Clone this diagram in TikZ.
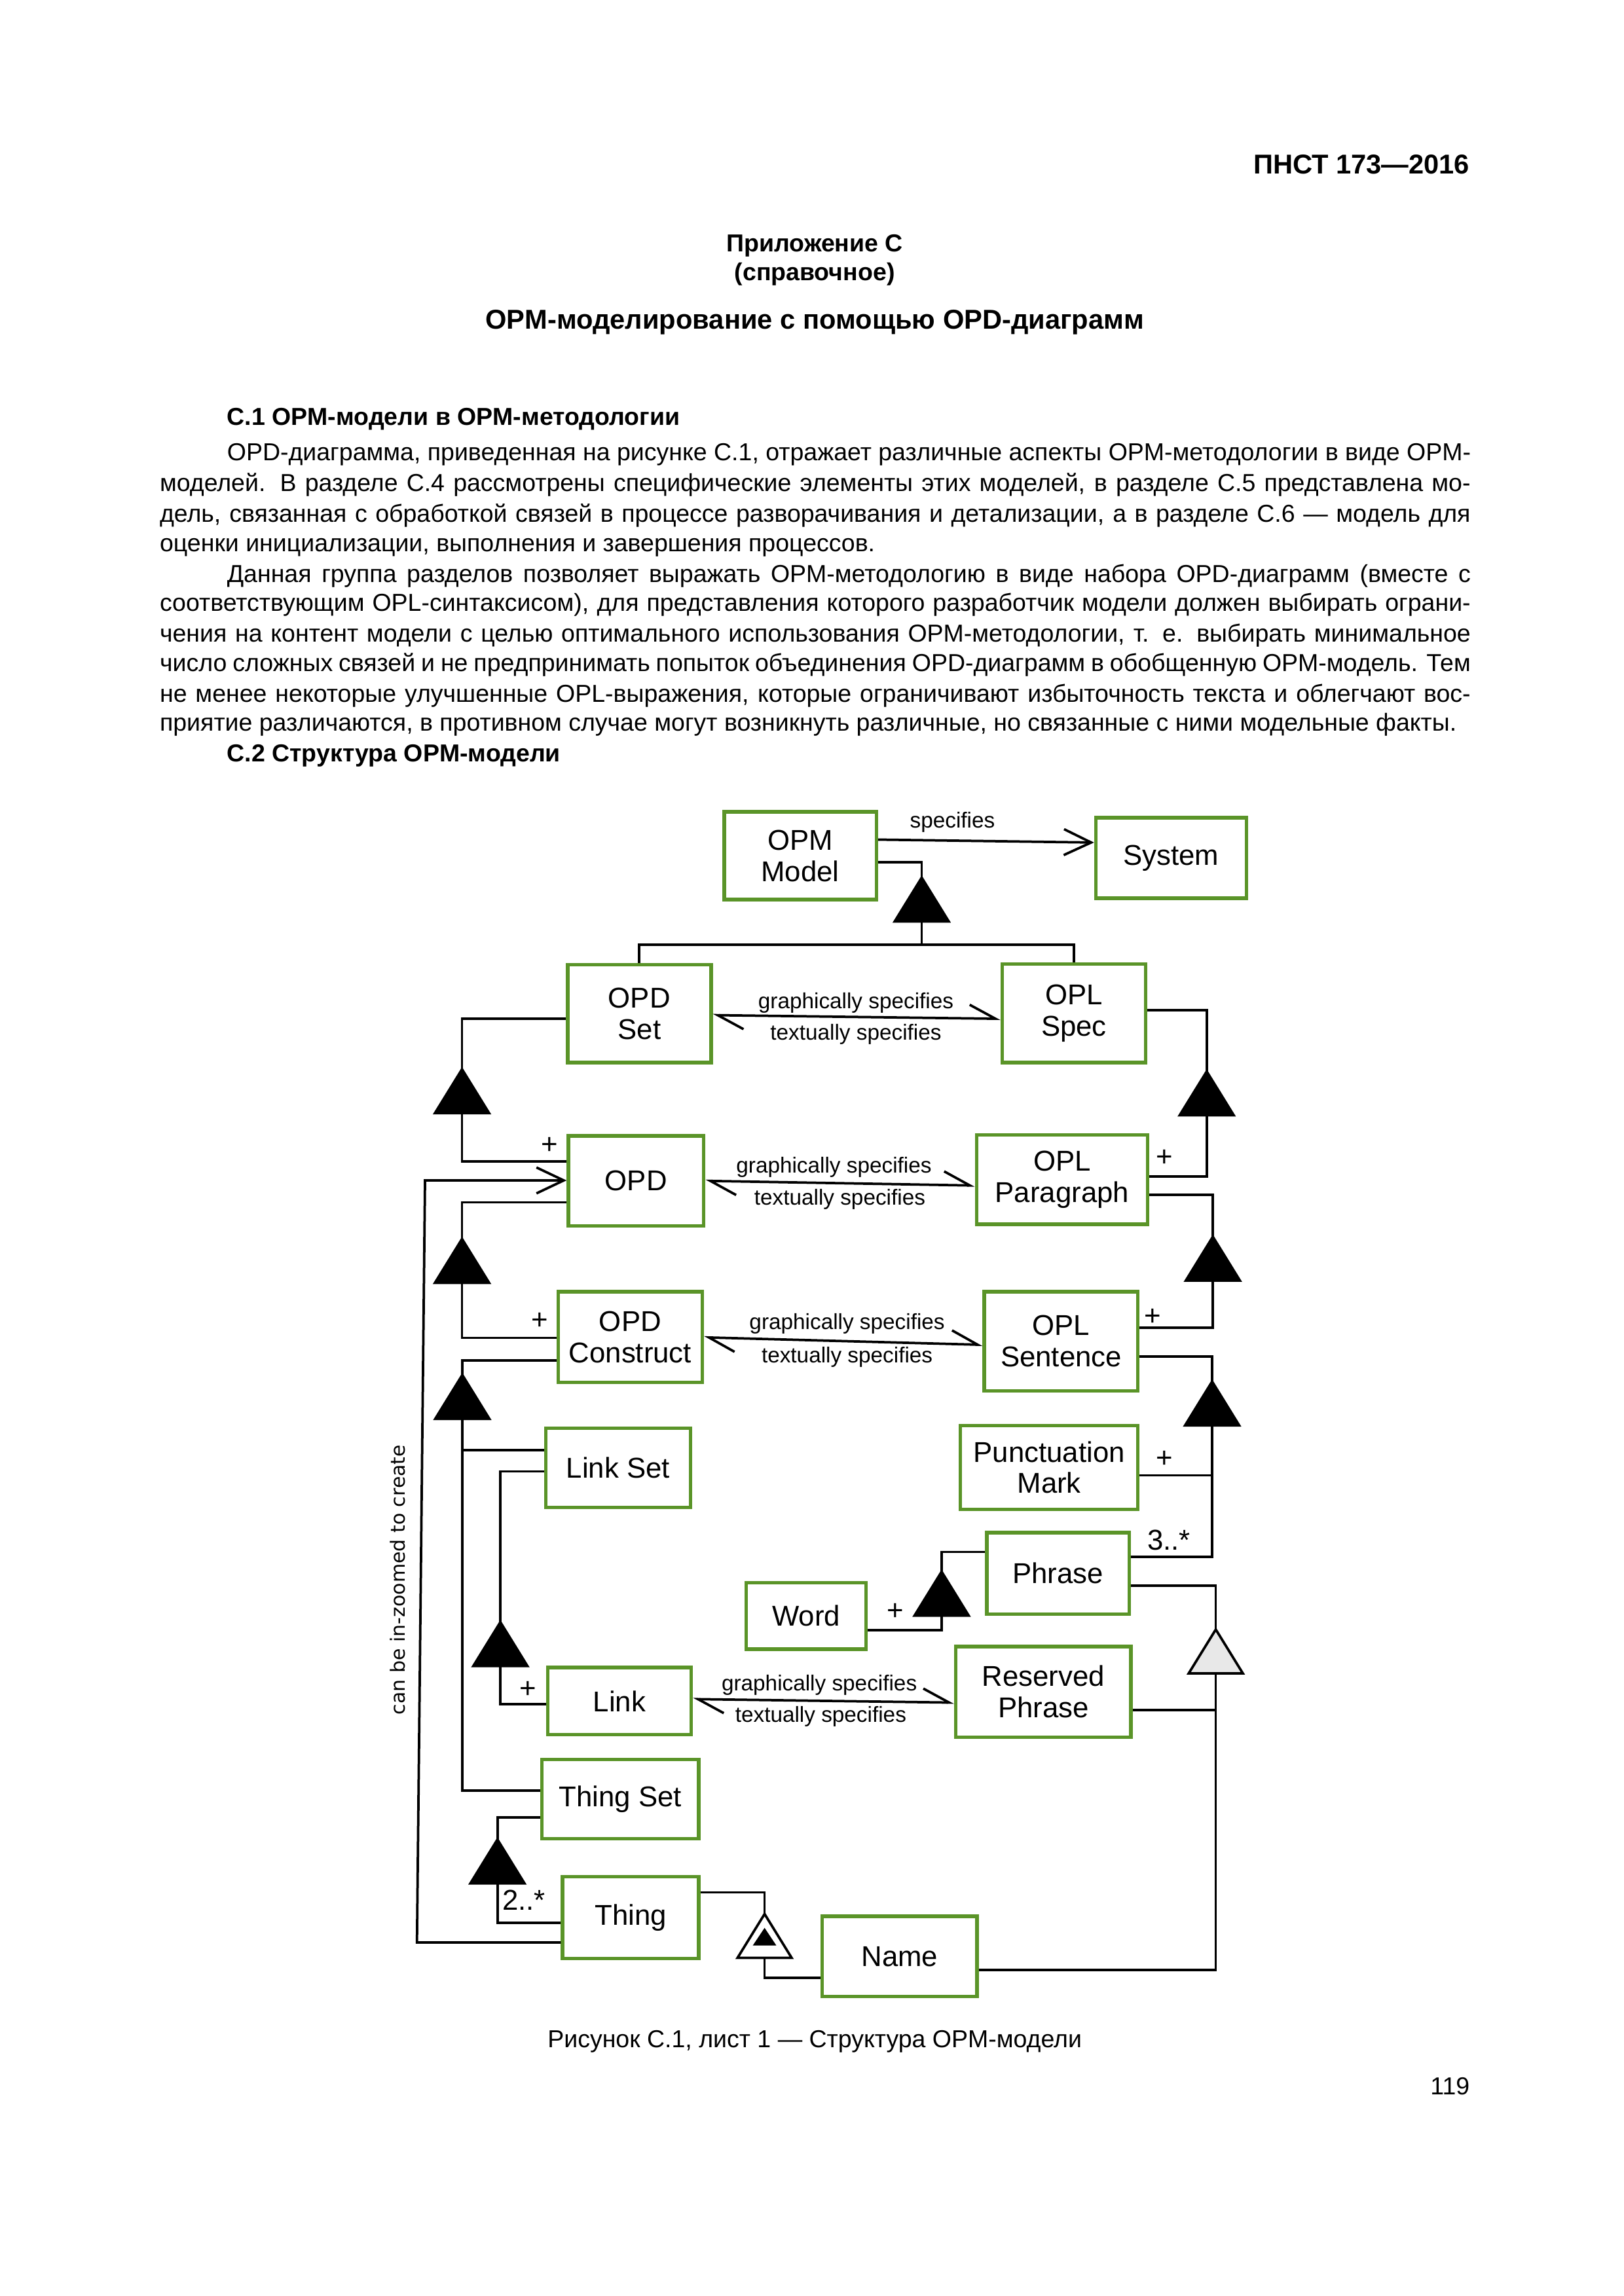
\documentclass[tikz,border=0pt]{standalone}
\usepackage{fontspec}
\setmainfont{Liberation Sans}
\newfontfamily\vfont{DejaVu Sans}
\usetikzlibrary{arrows.meta}
\definecolor{boxgreen}{RGB}{90,148,40}
\definecolor{trigrey}{RGB}{232,232,232}
\newcommand\obx[6]{\node[obox, minimum width={(#4-#2)*0.5363pt}, minimum height={(#5-#3)*0.5363pt}] (#1) at ({(#2+#4)/2},{(#3+#5)/2}) {#6};}
\newcommand\tri[4]{\coordinate (#1a) at (#2,#3); \coordinate (#1b) at (#2,#3+30);
  \draw[#4] (#1a) -- ++(18.5,30) -- ++(-37,0) -- cycle;}
\newcommand\jl[2]{\makebox[#1][s]{#2}}
\begin{document}
\begin{tikzpicture}[x=0.5363pt,y=-0.5363pt,
  obox/.style={draw=boxgreen, line width=1.3pt, fill=white, align=center, font=\fontsize{10.5}{11.5}\selectfont, inner sep=0pt},
  conn/.style={line width=0.9pt, line join=miter},
  lbl/.style={font=\fontsize{8}{9}\selectfont, inner sep=0pt},
  mult/.style={font=\fontsize{10.5}{11}\selectfont, inner sep=0pt},
  tagged/.style={conn, {Straight Barb[harpoon,length=9.5pt,width=10pt]}-{Straight Barb[harpoon,length=9.5pt,width=10pt]}},
  openarrow/.style={conn, -{Straight Barb[length=10pt,width=9.5pt]}},
  agg/.style={line width=0.9pt, fill=black},
  body/.style={anchor=west, inner sep=0pt, text height=6.8pt, text depth=2.2pt, font=\fontsize{9}{11}\selectfont},
  bodyb/.style={body, font=\bfseries\fontsize{9}{11}\selectfont},
]
\useasboundingbox[fill=white] (0,0) rectangle (1110,1569.7);

% ---------- page text ----------
\begin{scope}[yshift=-1.4pt, xshift=1pt]
\node[bodyb, anchor=east, font=\bfseries\fontsize{10}{12}\selectfont] (hdr) at (1003,112) {ПНСТ 173—2016};
\node[bodyb, anchor=center] (app) at (555,165) {Приложение С};
\node[bodyb, anchor=center] (spr) at (555,185) {(справочное)};
\node[bodyb, anchor=center, font=\bfseries\fontsize{10}{12}\selectfont] (ttl) at (555,218) {OPM-моделирование с помощью OPD-диаграмм};
\node[bodyb] (s1) at (153,284) {С.1 OPM-модели в OPM-методологии};
\node[body] (l1) at (153,308) {\jl{455.9pt}{OPD-диаграмма, приведенная на рисунке С.1, отражает различные аспекты OPM-методологии в виде OPM-}};
\node[body] (l2) at (107,329) {\jl{480.5pt}{моделей. В разделе С.4 рассмотрены специфические элементы этих моделей, в разделе С.5 представлена мо-}};
\node[body] (l3) at (107,350) {\jl{480.5pt}{дель, связанная с обработкой связей в процессе разворачивания и детализации, а в разделе С.6 — модель для}};
\node[body] (l4) at (107,370) {оценки инициализации, выполнения и завершения процессов.};
\node[body] (l5) at (153,391) {\jl{455.9pt}{Данная группа разделов позволяет выражать OPM-методологию в виде набора OPD-диаграмм (вместе с}};
\node[body] (l6) at (107,411) {\jl{480.5pt}{соответствующим OPL-синтаксисом), для представления которого разработчик модели должен выбирать ограни-}};
\node[body] (l7) at (107,432) {\jl{480.5pt}{чения на контент модели с целью оптимального использования OPM-методологии, т. е. выбирать минимальное}};
\node[body] (l8) at (107,452) {\jl{480.5pt}{число сложных связей и не предпринимать попыток объединения OPD-диаграмм в обобщенную OPM-модель. Тем}};
\node[body] (l9) at (107,473) {\jl{480.5pt}{не менее некоторые улучшенные OPL-выражения, которые ограничивают избыточность текста и облегчают вос-}};
\node[body] (l10) at (107,493) {приятие различаются, в противном случае могут возникнуть различные, но связанные с ними модельные факты.};
\node[bodyb] (s2) at (153,514) {С.2 Структура OPM-модели};
\node[body, anchor=center] (cap) at (555,1393) {Рисунок С.1, лист 1 — Структура OPM-модели};
\node[body, anchor=east] (pg) at (1003,1425) {119};
\end{scope}

% ---------- boxes ----------
\obx{OPMModel}{495}{555}{599}{615}{OPM\\Model}
\obx{System}{749}{559}{852}{614}{System}
\obx{OPDSet}{388}{659.5}{486}{726.5}{OPD\\Set}
\obx{OPLSpec}{685}{659}{783}{726.5}{OPL\\Spec}
\obx{OPD}{388.5}{776.5}{481}{838}{OPD}
\obx{OPLPar}{667.5}{776}{784.4}{837}{OPL\\Paragraph}
\obx{OPDCon}{381.5}{883}{480}{945}{OPD\\Construct}
\obx{OPLSen}{672.8}{883}{777.8}{951}{OPL\\Sentence}
\obx{LinkSet}{373}{976.5}{472}{1030.5}{Link Set}
\obx{PunctMark}{656.5}{974.6}{777.8}{1031.8}{Punctuation\\Mark}
\obx{Phrase}{674.6}{1047.8}{771.8}{1103.4}{Phrase}
\obx{Word}{510}{1082}{592}{1127.5}{Word}
\obx{ResPhrase}{653.3}{1125.6}{773}{1187.6}{Reserved\\Phrase}
\obx{Link}{374.4}{1140}{472.5}{1186}{Link}
\obx{ThingSet}{370.4}{1203}{477.6}{1257}{Thing Set}
\obx{Thing}{384.5}{1283}{477.6}{1339}{Thing}
\obx{Name}{562}{1310}{667.8}{1365}{Name}

% ---------- connectors ----------
\draw[openarrow] (OPMModel.east |- 0,574) -- (System.west |- 0,576);
\node[lbl] (lspec) at (651,562) {specifies};

\tri{t0}{630}{600}{agg}
\draw[conn] (OPMModel.east |- 0,589.5) -| (t0a);
\coordinate (j0) at (630,646);
\draw[conn] (t0b) -- (j0);
\draw[conn] (OPDSet.north) |- (j0) -| (OPLSpec.north);

\draw[tagged] (OPDSet.east |- 0,694) -- (OPLSpec.west |- 0,696.5);
\node[lbl] (g1) at (585,685.5) {graphically specifies};
\node[lbl] (x1) at (585,707) {textually specifies};

\tri{t1}{315.8}{731}{agg}
\draw[conn] (OPDSet.west |- 0,696.6) -| (t1a);
\draw[conn] (t1b) |- (OPD.west |- 0,794);
\node[mult] (p1) at (375.6,783) {+};

\tri{t2}{824.8}{732.5}{agg}
\draw[conn] (OPLSpec.east |- 0,690.5) -| (t2a);
\draw[conn] (t2b) |- (OPLPar.east |- 0,804.2);
\node[mult] (p2) at (796,791.5) {+};

\coordinate (zb) at (285,1328);
\coordinate (zt) at (290.5,807);
\draw[openarrow] (Thing.west |- zb) -- (zb) -- (zt) -- (OPD.west |- zt);
\node[rotate=90, inner sep=0pt, font=\vfont\fontsize{7.2}{8}\selectfont] (zl) at (272,1080) {can be in-zoomed to create};

\draw[tagged] (OPD.east |- 0,807.3) -- (OPLPar.west |- 0,810.5);
\node[lbl] (g2) at (570,798) {graphically specifies};
\node[lbl] (x2) at (574,820) {textually specifies};

\tri{t3}{315.8}{847}{agg}
\draw[conn] (OPD.west |- 0,822) -| (t3a);
\draw[conn] (t3b) |- (OPDCon.west |- 0,914.6);
\node[mult] (p3) at (369,903) {+};

\tri{t4}{829}{845.5}{agg}
\draw[conn] (OPLPar.east |- 0,817) -| (t4a);
\draw[conn] (t4b) |- (OPLSen.east |- 0,907.8);
\node[mult] (p4) at (788,900.5) {+};

\draw[tagged] (OPDCon.east |- 0,914.3) -- (OPLSen.west |- 0,919.4);
\node[lbl] (g3) at (579,905) {graphically specifies};
\node[lbl] (x3) at (579,928) {textually specifies};

\tri{t5}{316}{940}{agg}
\draw[conn] (OPDCon.west |- 0,930) -| (t5a);
\draw[conn] (t5b) |- (ThingSet.west |- 0,1224);
\draw[conn] (t5b |- 0,991.5) -- (LinkSet.west |- 0,991.5);

\tri{t6}{342}{1109}{agg}
\draw[conn] (LinkSet.west |- 0,1006) -| (t6a);
\draw[conn] (t6b) |- (Link.west |- 0,1165);
\node[mult] (p5) at (361,1155) {+};

\draw[tagged] (Link.east |- 0,1161.6) -- (ResPhrase.west |- 0,1164);
\node[lbl] (g4) at (560,1152) {graphically specifies};
\node[lbl] (x4) at (561,1173.5) {textually specifies};

\tri{t7}{340}{1257.6}{agg}
\draw[conn] (ThingSet.west |- 0,1242.6) -| (t7a);
\draw[conn] (t7b) |- (Thing.west |- 0,1314.5);
\node[mult] (m2) at (358,1299) {2..*};

\tri{t8}{828.5}{944.5}{agg}
\draw[conn] (OPLSen.east |- 0,927.3) -| (t8a);
\draw[conn] (t8b) |- (Phrase.east |- 0,1064.3);
\draw[conn] (t8b |- 0,1008.6) -- (PunctMark.east |- 0,1008.6);
\node[mult] (p6) at (796,997.8) {+};
\node[mult] (m3) at (799,1053) {3..*};

\tri{t9}{831}{1114}{line width=0.9pt, fill=trigrey}
\draw[conn] (Phrase.east |- 0,1084) -| (t9a);
\draw[conn] (t9b) |- (Name.east |- 0,1346.7);
\draw[conn] (t9b |- 0,1169) -- (ResPhrase.east |- 0,1169);

\tri{t10}{643.6}{1074.5}{agg}
\draw[conn] (Phrase.west |- 0,1061) -| (t10a);
\draw[conn] (t10b) |- (Word.east |- 0,1114.6);
\node[mult] (p7) at (612,1102) {+};

\tri{t11}{522.6}{1308.5}{line width=0.9pt, fill=white}
\fill (522.6,1318) -- ++(8,12) -- ++(-16,0) -- cycle;
\draw[conn] (Thing.east |- 0,1293.7) -| (t11a);
\draw[conn] (t11b) |- (Name.west |- 0,1352);
\end{tikzpicture}
\end{document}
